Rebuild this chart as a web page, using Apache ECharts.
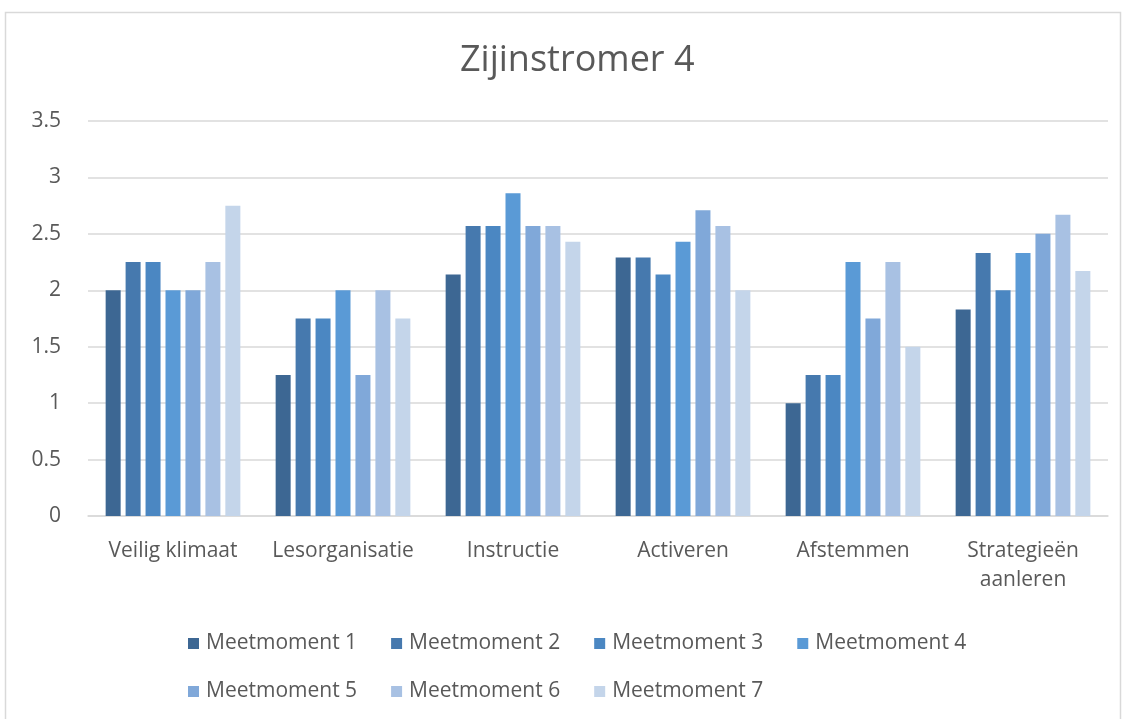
<!DOCTYPE html>
<html>
<head>
<meta charset="utf-8">
<script src="https://cdn.jsdelivr.net/npm/echarts@6/dist/echarts.min.js"></script>
<style>
    html, body { margin: 0; padding: 0; background: #fff; }
    #main { width: 1128px; height: 719px; }
</style>
</head>
<body>
<div id="main"></div>
<script>
// categorieen en waarden per meetmoment
var categories = ['Veilig klimaat', 'Lesorganisatie', 'Instructie', 'Activeren', 'Afstemmen', 'Strategieën\naanleren'];
var seriesNames = ['Meetmoment 1', 'Meetmoment 2', 'Meetmoment 3', 'Meetmoment 4', 'Meetmoment 5', 'Meetmoment 6', 'Meetmoment 7'];
var m1 = [2, 1.25, 2.14, 2.29, 1, 1.83];
var m2 = [2.25, 1.75, 2.57, 2.29, 1.25, 2.33];
var m3 = [2.25, 1.75, 2.57, 2.14, 1.25, 2];
var m4 = [2, 2, 2.86, 2.43, 2.25, 2.33];
var m5 = [2, 1.25, 2.57, 2.71, 1.75, 2.5];
var m6 = [2.25, 2, 2.57, 2.57, 2.25, 2.67];
var m7 = [2.75, 1.75, 2.43, 2, 1.5, 2.17];
var values = [m1, m2, m3, m4, m5, m6, m7];
var colors = ['#3d6793', '#4679ae', '#4b87c2', '#5a9ad6', '#80a8d9', '#a8c1e3', '#c4d5ea'];

var font = 'Open Sans';
var textColor = '#595959';

var chart = echarts.init(document.getElementById('main'));

var series = [];
for (var i = 0; i < seriesNames.length; i++) {
    series.push({
        name: seriesNames[i],
        type: 'bar',
        data: values[i],
        barWidth: 15,
        barGap: '33%',
        itemStyle: { color: colors[i] }
    });
}

var legendStyle = {
    orient: 'horizontal',
    left: 183,
    itemWidth: 11,
    itemHeight: 11,
    itemGap: 34,
    icon: 'rect',
    textStyle: { fontFamily: font, fontSize: 21, color: textColor, padding: [0, 0, 0, 2] }
};

var option = {
    animation: false,
    color: colors,
    title: {
        text: 'Zijinstromer 4',
        left: 455,
        top: 38,
        textStyle: { fontFamily: font, fontSize: 36, fontWeight: 'normal', color: textColor }
    },
    graphic: [{
        type: 'rect',
        shape: { x: 5.5, y: 12.5, width: 1115, height: 720 },
        style: { fill: 'none', stroke: '#d9d9d9', lineWidth: 1.5 },
        silent: true
    }],
    legend: [
        Object.assign({}, legendStyle, { top: 628, data: seriesNames.slice(0, 4) }),
        Object.assign({}, legendStyle, { top: 676, data: seriesNames.slice(4) })
    ],
    grid: { left: 88, right: 20, top: 121, bottom: 203 },
    xAxis: {
        type: 'category',
        data: categories,
        axisTick: { show: false },
        axisLine: { lineStyle: { color: '#d9d9d9', width: 1.5 } },
        axisLabel: { fontFamily: font, fontSize: 21, color: textColor, margin: 21, interval: 0, lineHeight: 29 }
    },
    yAxis: {
        type: 'value',
        min: 0,
        max: 3.5,
        interval: 0.5,
        axisLine: { show: false },
        axisTick: { show: false },
        splitLine: { lineStyle: { color: '#d9d9d9', width: 1.5 } },
        axisLabel: { fontFamily: font, fontSize: 21, color: textColor, margin: 27 }
    },
    series: series
};

chart.setOption(option);
</script>
</body>
</html>
